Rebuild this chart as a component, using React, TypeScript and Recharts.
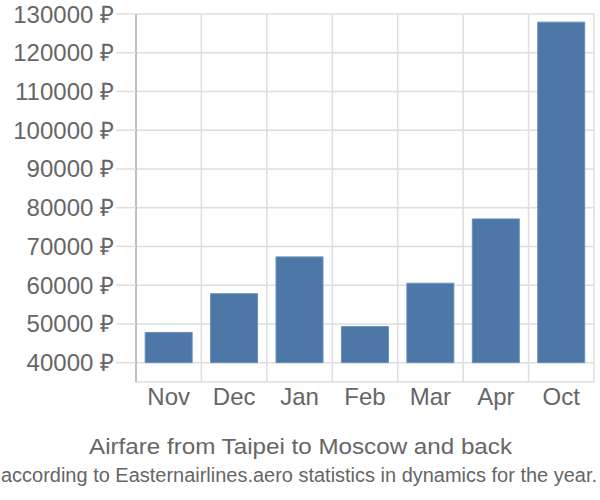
import { Bar, BarChart, CartesianGrid, XAxis, YAxis } from "recharts";

const months = ["Nov", "Dec", "Jan", "Feb", "Mar", "Apr", "Oct"];
const prices = [47800, 57800, 67300, 49300, 60500, 77100, 127900];
const yTicks = [40000, 50000, 60000, 70000, 80000, 90000, 100000, 110000, 120000, 130000];
const baseline = 40000;

const data = months.map((m, i) => ({ month: m, price: [baseline, prices[i]] }));

const FONT = '"Liberation Sans", Arial, sans-serif';

export default function App() {
  return (
    <div style={{ position: "absolute", left: 0, top: 0, width: 600, height: 500, background: "#fff" }}>
      <BarChart
        width={600}
        height={500}
        data={data}
        margin={{ top: 14, right: 6, left: 0, bottom: 78 }}
        barCategoryGap="14%"
      >
        <CartesianGrid
          stroke="#dedede"
          strokeWidth={1.5}
          verticalCoordinatesGenerator={({ offset }: any) =>
            months.map((_, i) => offset.left + ((i + 1) * offset.width) / months.length)
          }
        />
        <XAxis
          dataKey="month"
          axisLine={false}
          tickLine={false}
          height={40}
          tick={{ fill: "#666", fontSize: 24, fontFamily: FONT }}
          tickMargin={0}
        />
        <YAxis
          width={136}
          domain={[35000, 130000]}
          ticks={yTicks}
          interval={0}
          allowDataOverflow
          axisLine={{ stroke: "#aaa", strokeWidth: 1.5 }}
          tickLine={{ stroke: "#dedede", strokeWidth: 1.5 }}
          tickSize={20}
          tickMargin={2}
          tickFormatter={(v: number) => `${v} ₽`}
          tick={{ fill: "#666", fontSize: 24, fontFamily: FONT }}
        />
        <Bar dataKey="price" fill="#4d77a7" stroke="#6b8fba" strokeWidth={1} isAnimationActive={false} />
      </BarChart>
      <svg width={600} height={70} style={{ position: "absolute", left: 0, top: 430 }}>
        <text
          x={89}
          y={24}
          textLength={423}
          lengthAdjust="spacingAndGlyphs"
          fill="#666"
          fontSize={22}
          fontFamily={FONT}
        >
          Airfare from Taipei to Moscow and back
        </text>
        <text
          x={1}
          y={52}
          textLength={596}
          lengthAdjust="spacingAndGlyphs"
          fill="#666"
          fontSize={20}
          fontFamily={FONT}
        >
          according to Easternairlines.aero statistics in dynamics for the year.
        </text>
      </svg>
    </div>
  );
}
